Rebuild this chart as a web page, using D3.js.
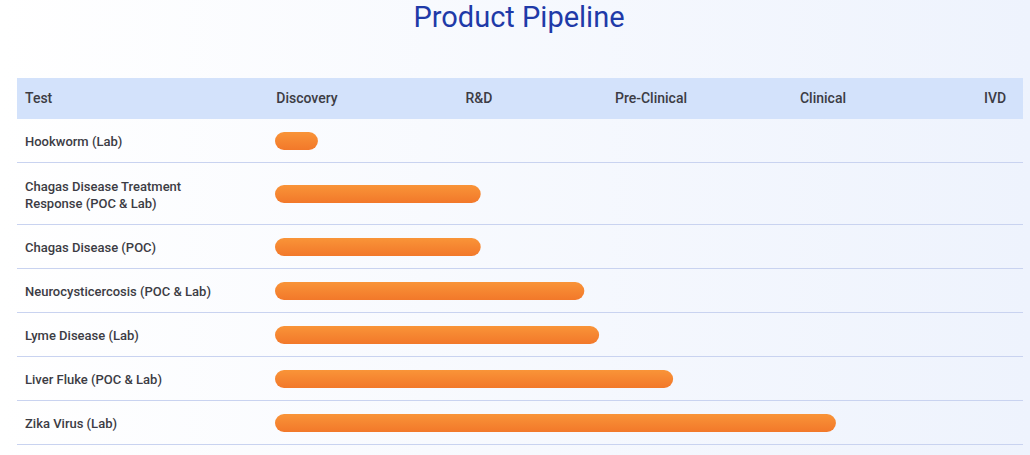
<!DOCTYPE html>
<html><head><meta charset="utf-8">
<script src="https://cdn.jsdelivr.net/npm/d3@7"></script>
<style>
body{margin:0;background:linear-gradient(90deg,#ffffff 0%,#eef3fd 100%);font-family:Roboto,sans-serif}
</style></head><body>
<svg id="chart"></svg>
<script>
const width = 1030, height = 455
const stages = ['Discovery', 'R&D', 'Pre-Clinical', 'Clinical', 'IVD']
const tests = [
  ['Hookworm (Lab)'],
  ['Chagas Disease Treatment', 'Response (POC & Lab)'],
  ['Chagas Disease (POC)'],
  ['Neurocysticercosis (POC & Lab)'],
  ['Lyme Disease (Lab)'],
  ['Liver Fluke (POC & Lab)'],
  ['Zika Virus (Lab)']
]
// progress measured in stage units
const progress = [0.29, 1.39, 1.39, 2.09, 2.19, 2.69, 3.79]

const svg = d3.select('#chart').attr('width', width).attr('height', height)

svg.append('text')
  .attr('x', 519).attr('y', 27)
  .attr('text-anchor', 'middle')
  .attr('fill', '#1f3aa8')
  .attr('font-size', 29)
  .text('Product Pipeline')

const left = 17, right = 1023, headTop = 78, headH = 41
const x = d3.scaleLinear().domain([0, 5]).range([275, 1015])
const hx = d3.scalePoint().domain(stages).range([307, 995])

svg.append('rect')
  .attr('x', left).attr('y', headTop)
  .attr('width', right - left).attr('height', headH)
  .attr('fill', '#d3e2fb')

const head = svg.append('g').attr('font-size', 14).attr('font-weight', 500).attr('fill', '#3c3c44')
head.append('text').attr('x', 25).attr('y', headTop + 25).text('Test')
head.selectAll('text.stage').data(stages).join('text')
  .attr('class', 'stage')
  .attr('x', d => hx(d)).attr('y', headTop + 25)
  .attr('text-anchor', 'middle')
  .text(d => d)

const defs = svg.append('defs')
const grad = defs.append('linearGradient').attr('id', 'bar').attr('x1', 0).attr('y1', 0).attr('x2', 0).attr('y2', 1)
grad.append('stop').attr('offset', '0%').attr('stop-color', '#f99438')
grad.append('stop').attr('offset', '100%').attr('stop-color', '#f2782a')

let y = headTop + headH
tests.forEach((lines, i) => {
  const h = lines.length > 1 ? 62 : 44
  const mid = y + h / 2
  const g = svg.append('g')
  g.append('text')
    .attr('font-size', 13).attr('font-weight', 500).attr('fill', '#3c3c44')
    .selectAll('tspan').data(lines).join('tspan')
      .attr('x', 25)
      .attr('y', (d, j) => mid + 5 + (j - (lines.length - 1) / 2) * 17)
      .text(d => d)
  g.append('rect')
    .attr('x', x(0)).attr('y', mid - 9)
    .attr('width', x(progress[i]) - x(0)).attr('height', 18)
    .attr('rx', 9)
    .attr('fill', 'url(#bar)')
  y += h
  g.append('line')
    .attr('x1', left).attr('x2', right)
    .attr('y1', y - 0.5).attr('y2', y - 0.5)
    .attr('stroke', '#c9d3f0')
})
</script>
</body></html>
